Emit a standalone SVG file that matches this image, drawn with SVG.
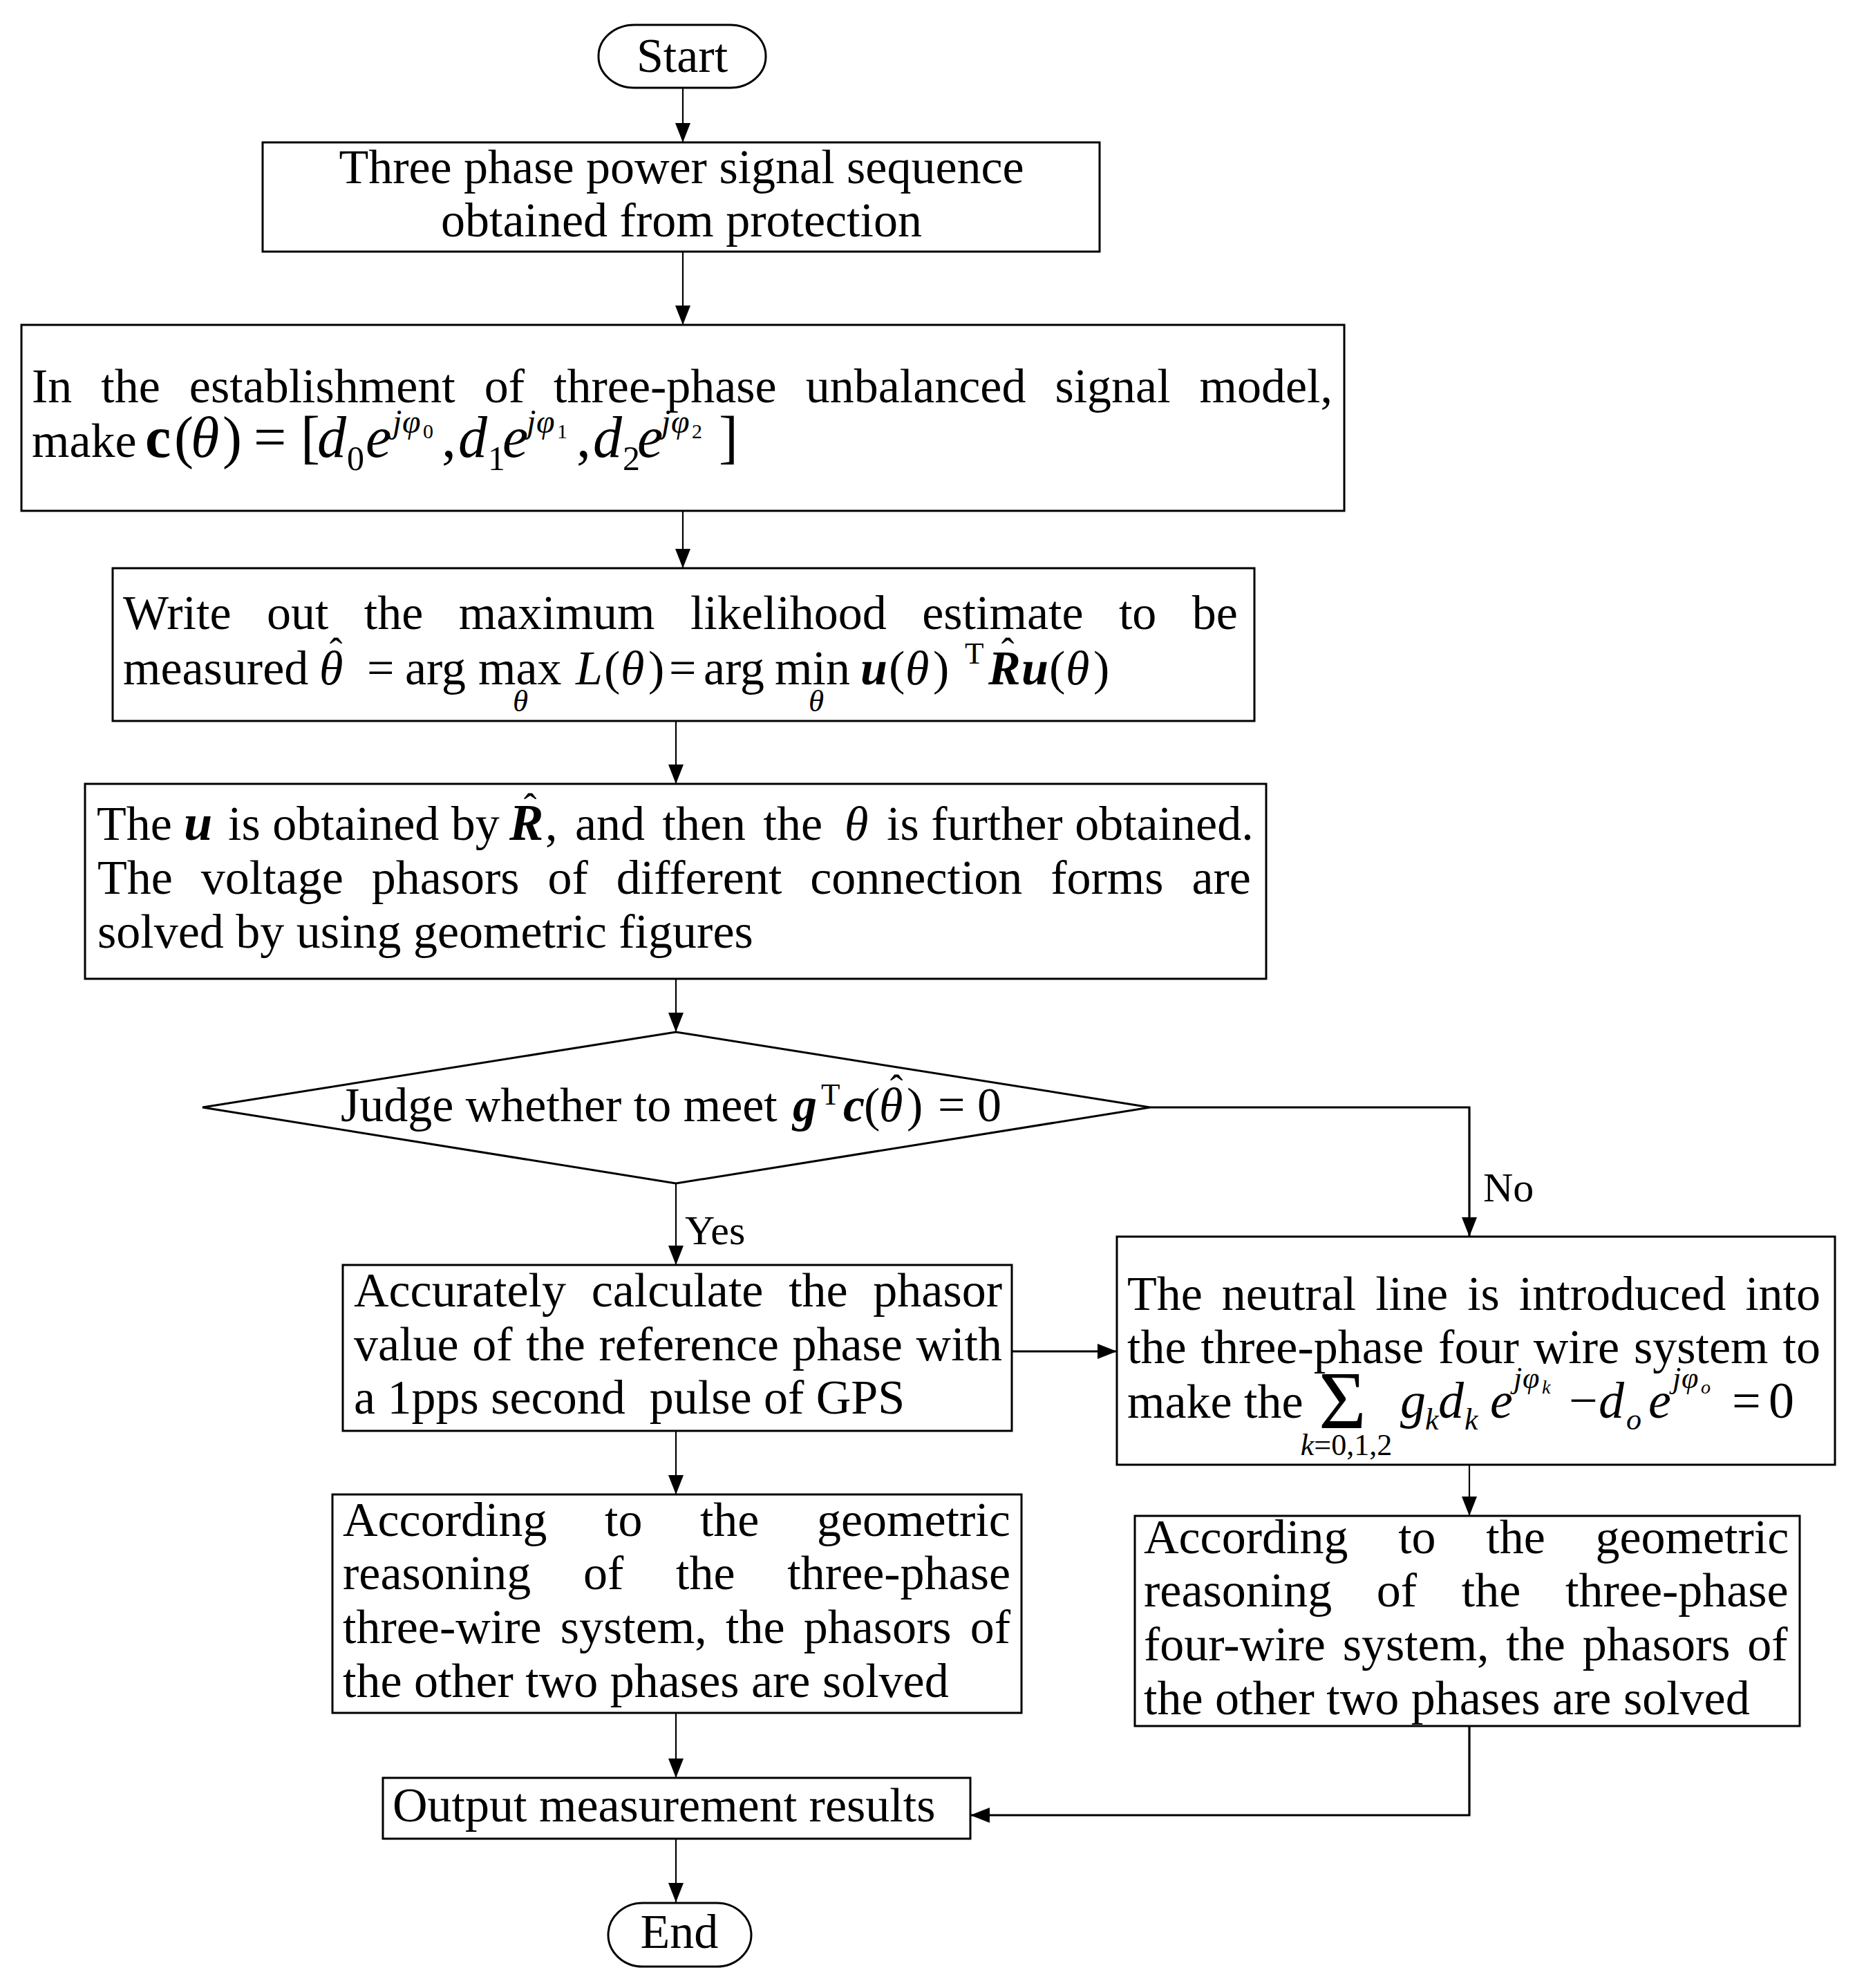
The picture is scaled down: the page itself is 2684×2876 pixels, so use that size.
<svg xmlns="http://www.w3.org/2000/svg" width="2684" height="2876" viewBox="0 0 2684 2876" font-size="70">
<style>
.bg{fill:#fff}
.box{fill:#fff;stroke:#000;stroke-width:3}
.ln{fill:none;stroke:#000;stroke-width:2.2}
.lnb{fill:none;stroke:#000;stroke-width:3.2}
text{font-family:"Liberation Serif","Times New Roman",serif;fill:#000}
.i{font-style:italic}
.b{font-weight:bold}
.bi{font-weight:bold;font-style:italic}
.lab{font-size:60px}
.mid{text-anchor:middle}
</style>
<defs>
<marker id="ah" viewBox="0 0 28 22" refX="28" refY="11" markerWidth="28" markerHeight="22" markerUnits="userSpaceOnUse" orient="auto">
<path d="M0,0 L28,11 L0,22 Z" fill="#000"/>
</marker>
</defs>
<rect class="bg" x="0" y="0" width="2684" height="2876"/>

<g id="connectors">
<path class="ln" d="M988,127 V206" marker-end="url(#ah)"/>
<path class="ln" d="M988,364 V470" marker-end="url(#ah)"/>
<path class="ln" d="M988,739 V822" marker-end="url(#ah)"/>
<path class="ln" d="M978,1043 V1134" marker-end="url(#ah)"/>
<path class="ln" d="M978,1416 V1493" marker-end="url(#ah)"/>
<path class="ln" d="M978,1712 V1830" marker-end="url(#ah)"/>
<path class="lnb" d="M1664,1602 H2126 V1789" marker-end="url(#ah)"/>
<path class="lnb" d="M1464,1955 H1616" marker-end="url(#ah)"/>
<path class="ln" d="M978,2070 V2162" marker-end="url(#ah)"/>
<path class="ln" d="M2126,2119 V2193" marker-end="url(#ah)"/>
<path class="ln" d="M978,2478 V2572" marker-end="url(#ah)"/>
<path class="lnb" d="M2126,2497 V2626 H1404" marker-end="url(#ah)"/>
<path class="ln" d="M978,2660 V2752" marker-end="url(#ah)"/>
<text class="lab" x="991" y="1800">Yes</text>
<text class="lab" x="2146" y="1738">No</text>
</g>

<g id="start">
<rect class="box" x="866" y="36" width="242" height="91" rx="52" ry="45"/>
<text class="mid" x="987" y="104">Start</text>
</g>

<g id="acquire">
<rect class="box" x="380" y="206" width="1211" height="158"/>
<text class="mid" x="986" y="265">Three phase power signal sequence</text>
<text class="mid" x="986" y="342">obtained from protection</text>
</g>

<g id="model">
<rect class="box" x="31" y="470" width="1914" height="269"/>
<text x="46" y="582" word-spacing="24.5">In the establishment of three-phase unbalanced signal model,</text>
<text x="46" y="661">make</text>
<text class="b" x="210" y="661" font-size="84">c</text>
<text x="252" y="661" font-size="84">(</text>
<text class="i" x="276" y="661" font-size="84">θ</text>
<text x="322" y="661" font-size="84">)</text>
<text x="367" y="661" font-size="84">=</text>
<text x="435" y="661" font-size="84">[</text>
<text class="i" x="459" y="661" font-size="84">d</text>
<text x="502" y="680" font-size="50">0</text>
<text class="i" x="529" y="661" font-size="84">e</text>
<text class="i" x="568" y="626" font-size="48">j</text>
<text class="i" x="582" y="626" font-size="48">φ</text>
<text x="612" y="634" font-size="30">0</text>
<text x="639" y="661" font-size="84">,</text>
<text class="i" x="663" y="661" font-size="84">d</text>
<text x="706" y="680" font-size="50">1</text>
<text class="i" x="727" y="661" font-size="84">e</text>
<text class="i" x="762" y="626" font-size="48">j</text>
<text class="i" x="776" y="626" font-size="48">φ</text>
<text x="806" y="634" font-size="30">1</text>
<text x="834" y="661" font-size="84">,</text>
<text class="i" x="858" y="661" font-size="84">d</text>
<text x="901" y="680" font-size="50">2</text>
<text class="i" x="922" y="661" font-size="84">e</text>
<text class="i" x="957" y="626" font-size="48">j</text>
<text class="i" x="971" y="626" font-size="48">φ</text>
<text x="1001" y="634" font-size="30">2</text>
<text x="1040" y="661" font-size="84">]</text>
</g>

<g id="mle">
<rect class="box" x="163" y="822" width="1652" height="221"/>
<text x="178" y="910" word-spacing="33.9">Write out the maximum likelihood estimate to be</text>
<text x="178" y="990">measured</text>
<text class="i" x="462" y="990">θ</text>
<text class="mid" x="486" y="962" font-size="56">ˆ</text>
<text x="531" y="990">=</text>
<text x="586" y="990">arg</text>
<text x="692" y="990">max</text>
<text class="i mid" x="753" y="1029" font-size="45">θ</text>
<text class="i" x="833" y="990">L</text>
<text x="874" y="990">(</text>
<text class="i" x="898" y="990">θ</text>
<text x="938" y="990">)</text>
<text x="968" y="990">=</text>
<text x="1018" y="990">arg</text>
<text x="1121" y="990">min</text>
<text class="i mid" x="1181" y="1029" font-size="45">θ</text>
<text class="bi" x="1245" y="990">u</text>
<text x="1286" y="990">(</text>
<text class="i" x="1310" y="990">θ</text>
<text x="1350" y="990">)</text>
<text x="1396" y="960" font-size="45">T</text>
<text class="bi" x="1430" y="990">R</text>
<text class="mid" x="1458" y="962" font-size="56">ˆ</text>
<text class="bi" x="1478" y="990">u</text>
<text x="1518" y="990">(</text>
<text class="i" x="1542" y="990">θ</text>
<text x="1582" y="990">)</text>
</g>

<g id="solve">
<rect class="box" x="123" y="1134" width="1709" height="282"/>
<text x="140" y="1215">The</text>
<text class="bi" x="266" y="1215" font-size="74">u</text>
<text x="330" y="1215">is obtained by</text>
<text class="bi" x="737" y="1215" font-size="74">R</text>
<text class="mid" x="767" y="1187" font-size="56">ˆ</text>
<text x="789" y="1215" word-spacing="8">, and then the</text>
<text class="i" x="1222" y="1215">θ</text>
<text x="1283" y="1215">is further obtained.</text>
<text x="141" y="1293" word-spacing="23.4">The voltage phasors of different connection forms are</text>
<text x="141" y="1371">solved by using geometric figures</text>
</g>

<g id="judge">
<polygon class="box" points="293,1602 978,1493 1664,1602 978,1712"/>
<text x="493" y="1622">Judge whether to meet</text>
<text class="bi" x="1147" y="1622">g</text>
<text x="1188" y="1598" font-size="45">T</text>
<text class="bi" x="1220" y="1622">c</text>
<text x="1250" y="1622">(</text>
<text class="i" x="1272" y="1622">θ</text>
<text class="mid" x="1297" y="1594" font-size="56">ˆ</text>
<text x="1312" y="1622">)</text>
<text x="1357" y="1622">=</text>
<text x="1414" y="1622">0</text>
</g>

<g id="reference">
<rect class="box" x="496" y="1830" width="968" height="240"/>
<text x="512" y="1890" word-spacing="19.2">Accurately calculate the phasor</text>
<text x="512" y="1968" word-spacing="2.2">value of the reference phase with</text>
<text x="512" y="2045" xml:space="preserve">a 1pps second  pulse of GPS</text>
</g>

<g id="neutral">
<rect class="box" x="1616" y="1789" width="1039" height="330"/>
<text x="1631" y="1895" word-spacing="10.5">The neutral line is introduced into</text>
<text x="1631" y="1972" word-spacing="3.5">the three-phase four wire system to</text>
<text x="1631" y="2051">make the</text>
<text x="1908" y="2066" font-size="118">Σ</text>
<text class="mid" x="1948" y="2105" font-size="44"><tspan class="i">k</tspan>=0,1,2</text>
<text class="i" x="2026" y="2051" font-size="74">g</text>
<text class="i" x="2062" y="2068" font-size="44">k</text>
<text class="i" x="2081" y="2051" font-size="74">d</text>
<text class="i" x="2119" y="2068" font-size="44">k</text>
<text class="i" x="2156" y="2051" font-size="74">e</text>
<text class="i" x="2190" y="2008" font-size="44">j</text>
<text class="i" x="2203" y="2008" font-size="44">φ</text>
<text class="i" x="2231" y="2016" font-size="28">k</text>
<text x="2270" y="2051" font-size="74">−</text>
<text class="i" x="2313" y="2051" font-size="74">d</text>
<text class="i" x="2353" y="2068" font-size="44">o</text>
<text class="i" x="2385" y="2051" font-size="74">e</text>
<text class="i" x="2420" y="2008" font-size="44">j</text>
<text class="i" x="2433" y="2008" font-size="44">φ</text>
<text class="i" x="2461" y="2016" font-size="28">o</text>
<text x="2506" y="2051" font-size="74">=</text>
<text x="2559" y="2051" font-size="74">0</text>
</g>

<g id="threewire">
<rect class="box" x="481" y="2162" width="997" height="316"/>
<text x="496" y="2222" word-spacing="66">According to the geometric</text>
<text x="496" y="2299" word-spacing="58.3">reasoning of the three-phase</text>
<text x="496" y="2377" word-spacing="9.7">three-wire system, the phasors of</text>
<text x="496" y="2455">the other two phases are solved</text>
</g>

<g id="fourwire">
<rect class="box" x="1642" y="2193" width="962" height="304"/>
<text x="1655" y="2247" word-spacing="55.2">According to the geometric</text>
<text x="1655" y="2324" word-spacing="47.2">reasoning of the three-phase</text>
<text x="1655" y="2402" word-spacing="7.25">four-wire system, the phasors of</text>
<text x="1655" y="2480">the other two phases are solved</text>
</g>

<g id="output">
<rect class="box" x="554" y="2572" width="850" height="88"/>
<text x="568" y="2635">Output measurement results</text>
</g>

<g id="end">
<rect class="box" x="880" y="2753" width="207" height="92" rx="50" ry="46"/>
<text class="mid" x="983" y="2818">End</text>
</g>
</svg>
